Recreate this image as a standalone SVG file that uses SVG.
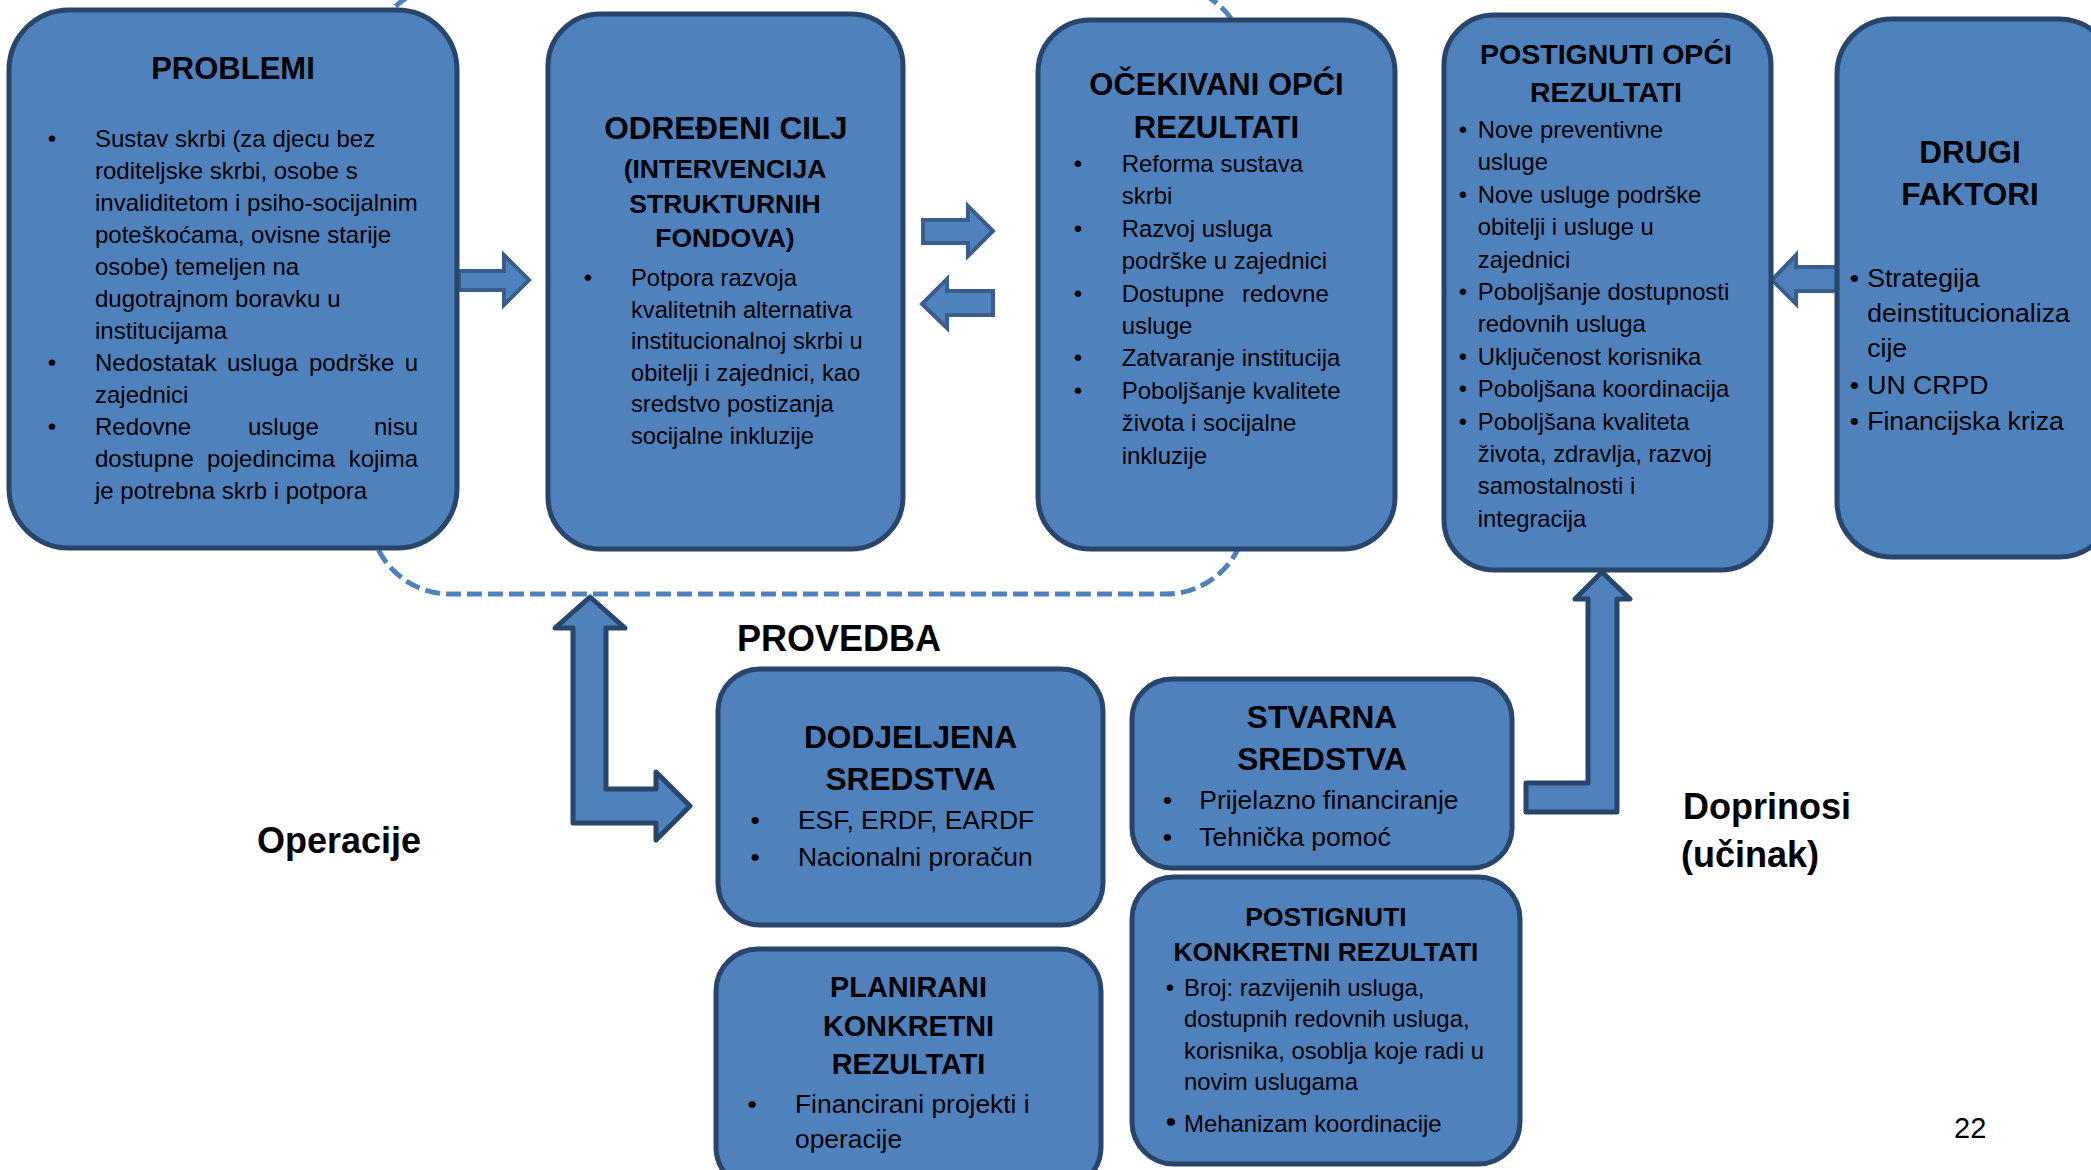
<svg xmlns="http://www.w3.org/2000/svg" width="2091" height="1170" viewBox="0 0 2091 1170">
<style>
.box{fill:#4F81BD;stroke:#28456B;stroke-width:5}
.arr{fill:#4F81BD;stroke:#3A5E8C;stroke-width:4;stroke-linejoin:miter}
.barr{fill:#4F81BD;stroke:#28456B;stroke-width:5;stroke-linejoin:round}
.loop{fill:none;stroke:#4F81BD;stroke-width:5;stroke-dasharray:15 6}
text{font-family:"Liberation Sans",Arial,Helvetica,sans-serif;fill:#000}
.h{font-weight:bold;text-anchor:middle}
.b{text-anchor:middle}
.lbl{font-weight:bold;font-size:36px}
</style>
<rect width="2091" height="1170" fill="#FFFFFF"/>
<g id="connectors">
<rect class="loop" x="370" y="-15" width="876" height="609" rx="80" ry="80"/>
<polygon class="arr" points="459,271 504,271 504,255 529,280 504,305 504,290 459,290"/>
<polygon class="arr" points="923,220 968,220 968,206 993,231 968,256 968,243 923,243"/>
<polygon class="arr" points="993,291 947,291 947,279 922,304 947,328 947,315 993,315"/>
<polygon class="arr" points="1837,267 1796,267 1796,255 1772,280 1796,304 1796,291 1837,291"/>
<polygon class="barr" points="1526,783 1588,783 1588,599 1575,599 1602,572 1630,599 1617,599 1617,812 1526,812"/>
<polygon class="barr" points="590,597 625,628 606,628 606,789 656,789 656,772 690,806 656,840 656,823 573,823 573,628 555,628"/>
</g>
<g id="problemi">
<rect class="box" x="9" y="10" width="448" height="538" rx="60" ry="60"/>
<text class="h" x="233" y="79" font-size="31">PROBLEMI</text>
<g font-size="24">
<text class="b" x="52" y="147">•</text>
<text x="95" y="147">Sustav skrbi (za djecu bez</text>
<text x="95" y="179">roditeljske skrbi, osobe s</text>
<text x="95" y="211">invaliditetom i psiho-socijalnim</text>
<text x="95" y="243">poteškoćama, ovisne starije</text>
<text x="95" y="275">osobe) temeljen na</text>
<text x="95" y="307">dugotrajnom boravku u</text>
<text x="95" y="339">institucijama</text>
<text class="b" x="52" y="371">•</text>
<text x="95" y="371">Nedostatak</text><text x="227" y="371">usluga</text><text x="309" y="371">podrške</text><text x="418" y="371" text-anchor="end">u</text>
<text x="95" y="403">zajednici</text>
<text class="b" x="52" y="435">•</text>
<text x="95" y="435">Redovne</text><text x="248" y="435">usluge</text><text x="418" y="435" text-anchor="end">nisu</text>
<text x="95" y="467">dostupne</text><text x="207" y="467">pojedincima</text><text x="418" y="467" text-anchor="end">kojima</text>
<text x="95" y="499">je potrebna skrb i potpora</text>
</g>
</g>
<g id="odredjeni-cilj">
<rect class="box" x="548" y="14" width="355" height="535" rx="52" ry="52"/>
<text class="h" x="726" y="139" font-size="31.5">ODREĐENI CILJ</text>
<text class="h" x="725" y="177.5" font-size="26.5">(INTERVENCIJA</text>
<text class="h" x="725" y="212.5" font-size="26.5">STRUKTURNIH</text>
<text class="h" x="725" y="246.5" font-size="26.5">FONDOVA)</text>
<g font-size="23.7">
<text class="b" x="588" y="286">•</text>
<text x="631" y="286">Potpora razvoja</text>
<text x="631" y="317.5">kvalitetnih alternativa</text>
<text x="631" y="349">institucionalnoj skrbi u</text>
<text x="631" y="380.5">obitelji i zajednici, kao</text>
<text x="631" y="412">sredstvo postizanja</text>
<text x="631" y="443.5">socijalne inkluzije</text>
</g>
</g>
<g id="ocekivani-opci-rezultati">
<rect class="box" x="1038" y="20" width="357" height="529" rx="52" ry="52"/>
<text class="h" x="1216.5" y="94.6" font-size="31">OČEKIVANI OPĆI</text>
<text class="h" x="1216.5" y="137.5" font-size="31">REZULTATI</text>
<g font-size="24">
<text class="b" x="1078" y="172">•</text>
<text x="1121.7" y="172">Reforma sustava</text>
<text x="1121.7" y="204.4">skrbi</text>
<text class="b" x="1078" y="236.8">•</text>
<text x="1121.7" y="236.8">Razvoj usluga</text>
<text x="1121.7" y="269.2">podrške u zajednici</text>
<text class="b" x="1078" y="301.6">•</text>
<text x="1121.7" y="301.6">Dostupne <tspan x="1242">redovne</tspan></text>
<text x="1121.7" y="334">usluge</text>
<text class="b" x="1078" y="366.4">•</text>
<text x="1121.7" y="366.4">Zatvaranje institucija</text>
<text class="b" x="1078" y="398.8">•</text>
<text x="1121.7" y="398.8">Poboljšanje kvalitete</text>
<text x="1121.7" y="431.2">života i socijalne</text>
<text x="1121.7" y="463.6">inkluzije</text>
</g>
</g>
<g id="postignuti-opci-rezultati">
<rect class="box" x="1444" y="15" width="327" height="555" rx="50" ry="50"/>
<text class="h" x="1606" y="63.6" font-size="28.5">POSTIGNUTI OPĆI</text>
<text class="h" x="1606" y="101.7" font-size="28.5">REZULTATI</text>
<g font-size="23.8">
<text class="b" x="1463" y="138">•</text>
<text x="1477.8" y="138">Nove preventivne</text>
<text x="1477.8" y="170.4">usluge</text>
<text class="b" x="1463" y="202.8">•</text>
<text x="1477.8" y="202.8">Nove usluge podrške</text>
<text x="1477.8" y="235.2">obitelji i usluge u</text>
<text x="1477.8" y="267.6">zajednici</text>
<text class="b" x="1463" y="300">•</text>
<text x="1477.8" y="300">Poboljšanje dostupnosti</text>
<text x="1477.8" y="332.4">redovnih usluga</text>
<text class="b" x="1463" y="364.8">•</text>
<text x="1477.8" y="364.8">Uključenost korisnika</text>
<text class="b" x="1463" y="397.2">•</text>
<text x="1477.8" y="397.2">Poboljšana koordinacija</text>
<text class="b" x="1463" y="429.6">•</text>
<text x="1477.8" y="429.6">Poboljšana kvaliteta</text>
<text x="1477.8" y="462">života, zdravlja, razvoj</text>
<text x="1477.8" y="494.4">samostalnosti i</text>
<text x="1477.8" y="526.8">integracija</text>
</g>
</g>
<g id="drugi-faktori">
<rect class="box" x="1837" y="19" width="277" height="538" rx="55" ry="55"/>
<text class="h" x="1970" y="163" font-size="31.5">DRUGI</text>
<text class="h" x="1970" y="205.3" font-size="31.5">FAKTORI</text>
<g font-size="26.6">
<text class="b" x="1854.3" y="286.7">•</text>
<text x="1867.2" y="286.7">Strategija</text>
<text x="1867.2" y="322">deinstitucionaliza</text>
<text x="1867.2" y="357">cije</text>
<text class="b" x="1854.3" y="394">•</text>
<text x="1867.2" y="394">UN CRPD</text>
<text class="b" x="1854.3" y="430.3">•</text>
<text x="1867.2" y="430.3">Financijska kriza</text>
</g>
</g>
<g id="dodijeljena-sredstva">
<rect class="box" x="718" y="669" width="385" height="256" rx="42" ry="42"/>
<text class="h" x="910.5" y="748" font-size="31.7">DODJELJENA</text>
<text class="h" x="910.5" y="789.6" font-size="31.7">SREDSTVA</text>
<g font-size="26.4">
<text class="b" x="755" y="828.5">•</text>
<text x="798" y="828.5">ESF, ERDF, EARDF</text>
<text class="b" x="755" y="866">•</text>
<text x="798" y="866">Nacionalni proračun</text>
</g>
</g>
<g id="planirani-konkretni-rezultati">
<rect class="box" x="716" y="949" width="385" height="240" rx="42" ry="42"/>
<text class="h" x="908.5" y="996.6" font-size="28.8">PLANIRANI</text>
<text class="h" x="908.5" y="1035.5" font-size="28.8">KONKRETNI</text>
<text class="h" x="908.5" y="1074.4" font-size="28.8">REZULTATI</text>
<g font-size="26.4">
<text class="b" x="752" y="1112.5">•</text>
<text x="795" y="1112.5">Financirani projekti i</text>
<text x="795" y="1147.5">operacije</text>
</g>
</g>
<g id="stvarna-sredstva">
<rect class="box" x="1132" y="679" width="380" height="189" rx="40" ry="40"/>
<text class="h" x="1322" y="728" font-size="31.6">STVARNA</text>
<text class="h" x="1322" y="770" font-size="31.6">SREDSTVA</text>
<g font-size="26.5">
<text class="b" x="1167.3" y="809">•</text>
<text x="1199.3" y="809">Prijelazno financiranje</text>
<text class="b" x="1167.3" y="846">•</text>
<text x="1199.3" y="846">Tehnička pomoć</text>
</g>
</g>
<g id="postignuti-konkretni-rezultati">
<rect class="box" x="1132" y="877" width="388" height="287" rx="42" ry="42"/>
<text class="h" x="1326" y="925.8" font-size="26.4">POSTIGNUTI</text>
<text class="h" x="1326" y="960.8" font-size="26.4">KONKRETNI REZULTATI</text>
<g font-size="23.9">
<text class="b" x="1170" y="995.8">•</text>
<text x="1184" y="995.8">Broj: razvijenih usluga,</text>
<text x="1184" y="1027">dostupnih redovnih usluga,</text>
<text x="1184" y="1058.8">korisnika, osoblja koje radi u</text>
<text x="1184" y="1090">novim uslugama</text>
<text class="b" x="1171" y="1132" font-size="30">•</text>
<text x="1184" y="1132">Mehanizam koordinacije</text>
</g>
</g>
<g id="labels">
<text class="lbl" x="737" y="651">PROVEDBA</text>
<text class="lbl" x="257" y="853">Operacije</text>
<text class="lbl" x="1683" y="818.5">Doprinosi</text>
<text class="lbl" x="1681" y="867">(učinak)</text>
<text x="1954" y="1138" font-size="29">22</text>
</g>
</svg>
